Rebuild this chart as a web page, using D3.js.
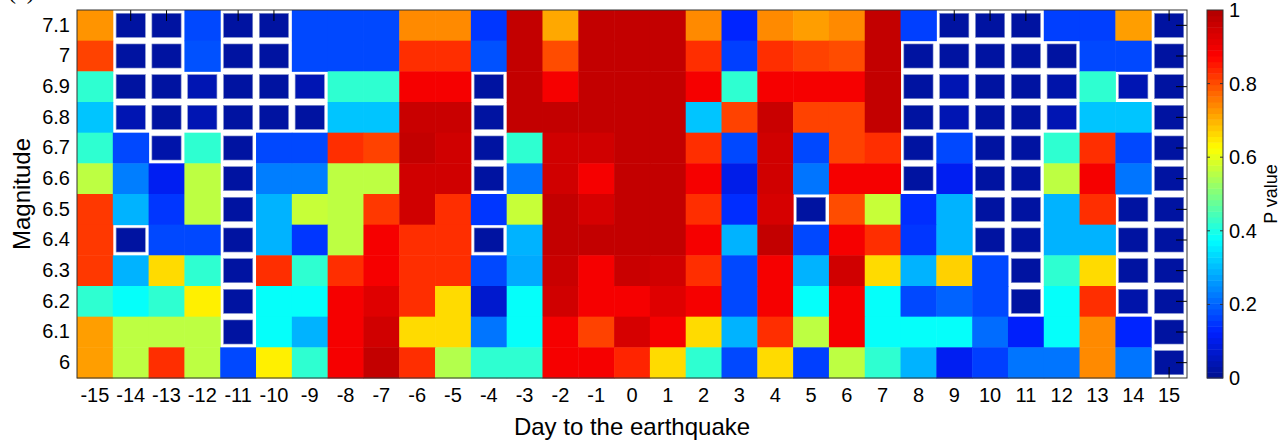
<!DOCTYPE html>
<html>
<head>
<meta charset="utf-8">
<script src="https://cdnjs.cloudflare.com/ajax/libs/d3/7.8.5/d3.min.js"></script>
<style>
    body { margin: 0; background: #fff; }
    text { font-family: "Liberation Sans", Arial, sans-serif; fill: #000; }
</style>
</head>
<body>
<div id="vis"></div>
<script>
// Days relative to the earthquake (columns)
var days = d3.range(-15, 16);

// Magnitude thresholds (rows, top to bottom)
var magnitudes = ["7.1", "7", "6.9", "6.8", "6.7", "6.6", "6.5", "6.4", "6.3", "6.2", "6.1", "6"];

// P values, one array per magnitude row, days -15 .. 15
var p71 = [0.73,0.02,0.02,0.17,0.02,0.02,0.17,0.17,0.17,0.74,0.74,0.15,0.97,0.71,0.97,0.97,0.97,0.74,0.13,0.74,0.72,0.74,0.97,0.16,0.02,0.02,0.02,0.16,0.16,0.72,0.02];
var p70 = [0.81,0.02,0.02,0.18,0.02,0.02,0.17,0.17,0.17,0.83,0.83,0.18,0.97,0.80,0.97,0.97,0.97,0.83,0.16,0.83,0.81,0.80,0.97,0.02,0.02,0.02,0.02,0.02,0.17,0.17,0.02];
var p69 = [0.42,0.02,0.02,0.04,0.02,0.02,0.04,0.42,0.42,0.89,0.89,0.02,0.97,0.89,0.97,0.97,0.97,0.89,0.42,0.89,0.89,0.89,0.97,0.02,0.04,0.02,0.02,0.03,0.42,0.04,0.02];
var p68 = [0.31,0.04,0.02,0.04,0.02,0.02,0.02,0.31,0.31,0.96,0.96,0.02,0.97,0.97,0.97,0.97,0.97,0.31,0.81,0.96,0.81,0.81,0.97,0.02,0.04,0.02,0.02,0.04,0.31,0.31,0.02];
var p67 = [0.42,0.17,0.03,0.42,0.02,0.17,0.17,0.83,0.81,0.97,0.95,0.02,0.42,0.95,0.95,0.97,0.97,0.83,0.17,0.95,0.17,0.81,0.83,0.02,0.17,0.02,0.02,0.42,0.83,0.17,0.02];
var p66 = [0.56,0.23,0.11,0.56,0.02,0.23,0.23,0.56,0.56,0.95,0.95,0.02,0.22,0.95,0.89,0.97,0.97,0.89,0.10,0.95,0.22,0.89,0.89,0.02,0.11,0.02,0.02,0.56,0.89,0.22,0.02];
var p65 = [0.82,0.29,0.15,0.56,0.02,0.29,0.57,0.56,0.82,0.95,0.83,0.15,0.57,0.97,0.94,0.97,0.97,0.83,0.14,0.94,0.02,0.80,0.57,0.14,0.29,0.02,0.02,0.29,0.83,0.02,0.02];
var p64 = [0.82,0.02,0.17,0.17,0.02,0.29,0.15,0.56,0.89,0.83,0.83,0.02,0.29,0.97,0.97,0.97,0.97,0.89,0.29,0.97,0.17,0.89,0.83,0.15,0.29,0.02,0.02,0.29,0.29,0.02,0.02];
var p63 = [0.82,0.29,0.66,0.42,0.02,0.83,0.42,0.83,0.89,0.83,0.83,0.17,0.28,0.96,0.89,0.96,0.95,0.83,0.17,0.89,0.29,0.95,0.66,0.29,0.67,0.17,0.02,0.42,0.66,0.02,0.02];
var p62 = [0.42,0.38,0.42,0.64,0.02,0.38,0.38,0.89,0.925,0.83,0.66,0.07,0.38,0.95,0.89,0.89,0.925,0.89,0.17,0.89,0.38,0.89,0.38,0.17,0.20,0.17,0.02,0.38,0.83,0.03,0.02];
var p61 = [0.72,0.56,0.56,0.56,0.02,0.38,0.29,0.89,0.95,0.66,0.66,0.22,0.38,0.89,0.81,0.94,0.89,0.66,0.29,0.83,0.56,0.89,0.38,0.38,0.38,0.21,0.12,0.38,0.74,0.13,0.02];
var p60 = [0.72,0.56,0.83,0.56,0.17,0.64,0.42,0.89,0.97,0.83,0.55,0.42,0.42,0.89,0.89,0.84,0.66,0.42,0.17,0.66,0.16,0.56,0.42,0.29,0.11,0.16,0.22,0.22,0.74,0.22,0.02];

var rows = [p71, p70, p69, p68, p67, p66, p65, p64, p63, p62, p61, p60];

// colorbar ticks
var cbTicks = [0, 0.2, 0.4, 0.6, 0.8, 1];

var alpha = 0.05; // significance level, these cells get the white frame

var width = 1286,
    height = 440,
    margin = { top: 10, left: 77 },
    drawWidth = 1110,
    drawHeight = 368;

// flatten into cells
var cells = [];
rows.forEach(function(r, i) {
    r.forEach(function(v, j) {
        cells.push({ mag: magnitudes[i], day: days[j], p: v });
    });
});

// jet-like colormap
var color = d3.scaleLinear()
    .domain([0, 0.125, 0.375, 0.625, 0.875, 1])
    .range(["#00108f", "#0020ff", "#00ffff", "#ffff00", "#ff0000", "#b00000"])
    .clamp(true);

var svg = d3.select("#vis").append("svg")
    .attr("width", width)
    .attr("height", height);

var x = d3.scaleBand()
    .domain(days)
    .range([margin.left, margin.left + drawWidth]);

var y = d3.scaleBand()
    .domain(magnitudes)
    .range([margin.top, margin.top + drawHeight]);

var inset = 3.3;

// significant cells: smaller squares, white shows round them
svg.append("g").selectAll("rect")
    .data(cells.filter(function(d) { return d.p < alpha; }))
    .enter()
    .append("rect")
    .attr("x", function(d) { return x(d.day) + inset; })
    .attr("y", function(d) { return y(d.mag) + inset; })
    .attr("width", x.bandwidth() - 2 * inset)
    .attr("height", y.bandwidth() - 2 * inset)
    .style("fill", function(d) { return color(d.p); })
    .style("stroke", "#8090c8")
    .style("stroke-width", 0.6);

// inward ticks (only seen through the white frames)
var tickLen = 11;
var ticks = svg.append("g").style("stroke", "#000").style("stroke-width", 1);
days.forEach(function(d) {
    var cx = x(d) + x.bandwidth() / 2;
    ticks.append("line").attr("x1", cx).attr("x2", cx)
        .attr("y1", margin.top).attr("y2", margin.top + tickLen);
    ticks.append("line").attr("x1", cx).attr("x2", cx)
        .attr("y1", margin.top + drawHeight).attr("y2", margin.top + drawHeight - tickLen);
});
magnitudes.forEach(function(m) {
    var cy = y(m) + y.bandwidth() / 2;
    ticks.append("line").attr("y1", cy).attr("y2", cy)
        .attr("x1", margin.left).attr("x2", margin.left + tickLen);
    ticks.append("line").attr("y1", cy).attr("y2", cy)
        .attr("x1", margin.left + drawWidth).attr("x2", margin.left + drawWidth - tickLen);
});

// the rest of the cells
svg.append("g").selectAll("rect")
    .data(cells.filter(function(d) { return d.p >= alpha; }))
    .enter()
    .append("rect")
    .attr("x", function(d) { return x(d.day); })
    .attr("y", function(d) { return y(d.mag); })
    .attr("width", x.bandwidth() + 0.5)
    .attr("height", y.bandwidth() + 0.5)
    .style("fill", function(d) { return color(d.p); });

// frame
svg.append("rect")
    .attr("x", margin.left)
    .attr("y", margin.top)
    .attr("width", drawWidth)
    .attr("height", drawHeight)
    .style("fill", "none")
    .style("stroke", "#333")
    .style("stroke-width", 1);

// axes
var xAxis = d3.axisBottom(x).tickSize(0).tickPadding(10);
var yAxis = d3.axisLeft(y).tickSize(0).tickPadding(7);

var gx = svg.append("g")
    .attr("transform", "translate(0," + (margin.top + drawHeight) + ")")
    .call(xAxis);
var gy = svg.append("g")
    .attr("transform", "translate(" + margin.left + ",0)")
    .call(yAxis);

gx.select(".domain").remove();
gy.select(".domain").remove();
gx.selectAll("text").style("font-size", "20px").attr("font-family", null);
gy.selectAll("text").style("font-size", "20px").attr("font-family", null);

svg.append("text")
    .attr("x", margin.left + drawWidth / 2)
    .attr("y", 435)
    .attr("text-anchor", "middle")
    .style("font-size", "24px")
    .text("Day to the earthquake");

svg.append("text")
    .attr("transform", "translate(30," + (margin.top + drawHeight / 2) + ") rotate(-90)")
    .attr("text-anchor", "middle")
    .style("font-size", "24px")
    .text("Magnitude");

// panel title, clipped by the top of the figure as in the source
svg.append("text")
    .attr("x", 8)
    .attr("y", -1)
    .style("font-family", "'Liberation Serif', 'Times New Roman', serif")
    .style("font-size", "24px")
    .text("(a)");

// colorbar
var cbX = 1207, cbW = 16;
var cy = d3.scaleLinear().domain([0, 1]).range([margin.top + drawHeight, margin.top]);
var levels = d3.range(64);
svg.append("g").selectAll("rect")
    .data(levels)
    .enter()
    .append("rect")
    .attr("x", cbX)
    .attr("y", function(d) { return cy((d + 1) / 64); })
    .attr("width", cbW)
    .attr("height", drawHeight / 64 + 0.5)
    .style("fill", function(d) { return color((d + 0.5) / 64); });

svg.append("rect")
    .attr("x", cbX)
    .attr("y", margin.top)
    .attr("width", cbW)
    .attr("height", drawHeight)
    .style("fill", "none")
    .style("stroke", "#333");

var cbAxis = d3.axisRight(cy).tickValues(cbTicks).tickSize(0).tickPadding(6)
    .tickFormat(function(d) { return d3.format("")(d); });
var gc = svg.append("g")
    .attr("transform", "translate(" + (cbX + cbW) + ",0)")
    .call(cbAxis);
gc.select(".domain").remove();
gc.selectAll("text").style("font-size", "20px").attr("font-family", null);

// small inner tick marks on the colorbar
cbTicks.slice(1, -1).forEach(function(t) {
    svg.append("line").attr("x1", cbX).attr("x2", cbX + 3)
        .attr("y1", cy(t)).attr("y2", cy(t)).style("stroke", "#333");
    svg.append("line").attr("x1", cbX + cbW - 3).attr("x2", cbX + cbW)
        .attr("y1", cy(t)).attr("y2", cy(t)).style("stroke", "#333");
});

svg.append("text")
    .attr("transform", "translate(1277," + (margin.top + drawHeight / 2) + ") rotate(-90)")
    .attr("text-anchor", "middle")
    .style("font-size", "18px")
    .text("P value");
</script>
</body>
</html>
